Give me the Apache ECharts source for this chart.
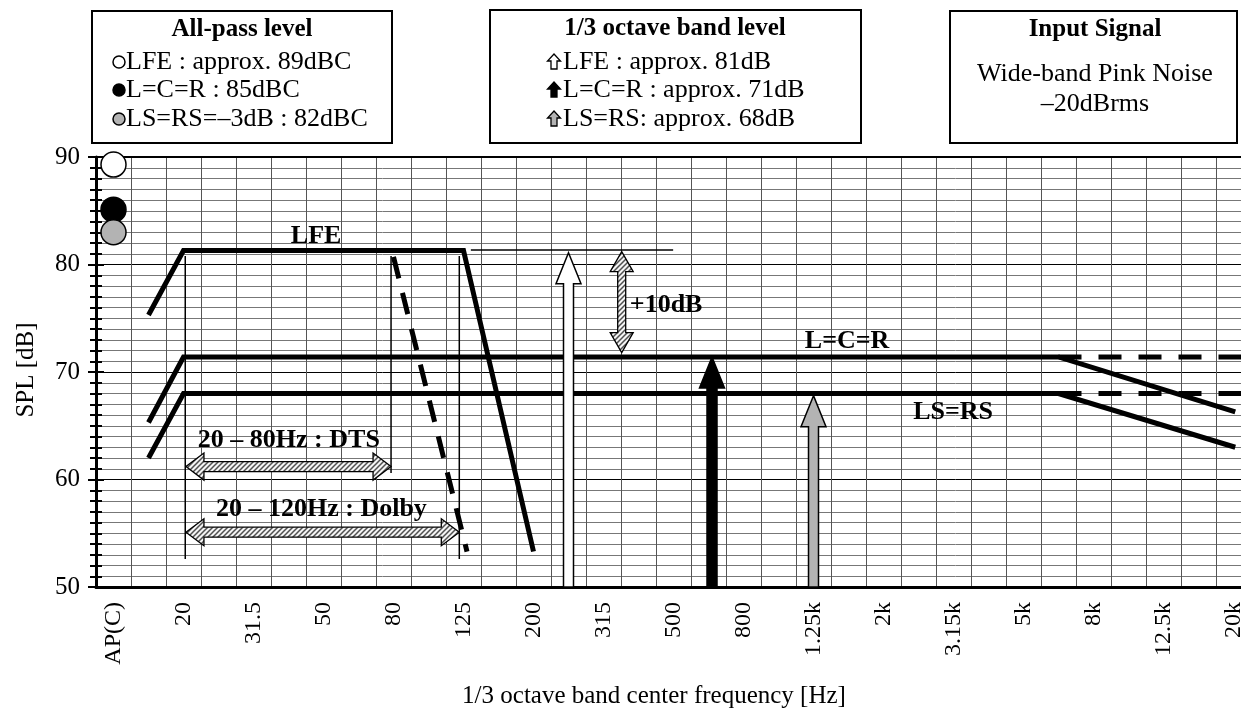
<!DOCTYPE html>
<html><head><meta charset="utf-8">
<script src="https://cdn.jsdelivr.net/npm/echarts@6/dist/echarts.min.js"></script>
<style>html,body{margin:0;padding:0;background:#fff}#c{width:1241px;height:709px}</style>
</head><body><div id="c"></div>
<script>
// ---------- data ----------
const categories = ['AP(C)','16','20','25','31.5','40','50','63','80','100','125','160','200','250','315','400','500','630','800','1k','1.25k','1.6k','2k','2.5k','3.15k','4k','5k','6.3k','8k','10k','12.5k','16k','20k'];
const yMin = 50, yMax = 90, yStep = 10;
// x = position along the band axis (0 = AP(C), 1 = 16 Hz, 2 = 20 Hz, ... 32 = 20 kHz)
const lfeCurve    = [[1,75.3],[2,81.3],[10,81.3],[12,53.3]];
const lfeDtsCurve = [[8.0,80.7],[10.1,53.3]];
const lcrCurve    = [[1,65.3],[2,71.4],[27,71.4],[32.05,66.3]];
const lcrFlat     = [[27,71.4],[33,71.4]];
const lsrsCurve   = [[1,62.0],[2,68.0],[27,68.0],[32.05,63.0]];
const lsrsFlat    = [[27,68.0],[33,68.0]];
const allPassLevels = [89.3, 85.1, 83.0];          // LFE, L=C=R, LS=RS  at AP(C)
const bandLevels    = [[13,81.1],[17.1,71.4],[20,67.8]]; // LFE, L=C=R, LS=RS
const markerLines   = [[2.05,80.8,2.05,52.6],[7.93,80.8,7.93,60.6],[9.88,80.8,9.88,52.6],[10.21,81.35,15.99,81.35]];
const rangeArrows   = [[2.07,61.2,7.93,61.2],[2.07,55.1,9.88,55.1],[14.52,81.2,14.52,71.8]];
const annotations   = [[5.79,82.65,'LFE'],[20.96,72.88,'L=C=R'],[23.99,66.28,'LS=RS'],[15.79,76.2,'+10dB'],[5.01,63.67,'20 – 80Hz : DTS'],[5.94,57.26,'20 – 120Hz : Dolby']];
const allPassTitle = 'All-pass level';
const allPassRows  = ['LFE : approx. 89dBC','L=C=R : 85dBC','LS=RS=–3dB : 82dBC'];
const bandTitle    = '1/3 octave band level';
const bandRows     = ['LFE : approx. 81dB','L=C=R : approx. 71dB','LS=RS: approx. 68dB'];
const signalTitle  = 'Input Signal';
const signalRows   = ['Wide-band Pink Noise','–20dBrms'];
const xTitle = '1/3 octave band center frequency [Hz]';
const yTitle = 'SPL [dB]';

// ---------- style ----------
const FONT = 'Liberation Serif';
const fills = ['#ffffff','#000000','#b3b3b3'];

function hatchCanvas(){
  const c=document.createElement('canvas'); c.width=5; c.height=5;
  const g=c.getContext('2d'); g.fillStyle='#f4f4f4'; g.fillRect(0,0,5,5);
  g.strokeStyle='#505050'; g.lineWidth=1.5; g.beginPath();
  g.moveTo(0,5); g.lineTo(5,0); g.moveTo(-2.5,2.5); g.lineTo(2.5,-2.5); g.moveTo(2.5,7.5); g.lineTo(7.5,2.5); g.stroke();
  return c;
}
const hatch = {image: hatchCanvas(), repeat: 'repeat'};

const chart = echarts.init(document.getElementById('c'), null, {renderer:'canvas'});

function bandArrow(params, api){
  const tip = api.coord([api.value(0), api.value(1)]);
  const base = api.coord([api.value(0), yMin]);
  const hw=12.5, sw=5, hl=31, x=tip[0], t=tip[1], b=base[1];
  return {type:'polygon', z2:5, shape:{points:[[x,t],[x+hw,t+hl],[x+sw,t+hl],[x+sw,b],[x-sw,b],[x-sw,t+hl],[x-hw,t+hl]]},
    style:{fill:fills[params.dataIndex], stroke:'#000', lineWidth:1.5}};
}
const arrowDims = [{hl:18,hw:13.5,sw:5},{hl:18,hw:13.5,sw:5},{hl:20,hw:11.5,sw:4}];
function doubleArrow(params, api){
  const p1=api.coord([api.value(0),api.value(1)]), p2=api.coord([api.value(2),api.value(3)]);
  const dx=p2[0]-p1[0], dy=p2[1]-p1[1], L=Math.hypot(dx,dy), ux=dx/L, uy=dy/L, nx=-uy, ny=ux;
  const d=arrowDims[params.dataIndex];
  const P=(s,n)=>[p1[0]+ux*s+nx*n, p1[1]+uy*s+ny*n];
  return {type:'polygon', shape:{points:[P(0,0),P(d.hl,d.hw),P(d.hl,d.sw),P(L-d.hl,d.sw),P(L-d.hl,d.hw),P(L,0),P(L-d.hl,-d.hw),P(L-d.hl,-d.sw),P(d.hl,-d.sw),P(d.hl,-d.hw)]},
    style:{fill:hatch, stroke:'#000', lineWidth:1.3}};
}
function thinLine(params, api){
  const p1=api.coord([api.value(0),api.value(1)]), p2=api.coord([api.value(2),api.value(3)]);
  return {type:'line', shape:{x1:p1[0],y1:p1[1],x2:p2[0],y2:p2[1]}, style:{stroke:'#000', lineWidth:1.5}};
}

const thick = {color:'#000', width:5, cap:'butt', join:'miter'};
function lineSeries(data, dashed){
  return {type:'line', xAxisIndex:1, yAxisIndex:0, data, symbol:'none', silent:true, clip:false, z:4,
    lineStyle:Object.assign({}, thick, dashed?{type:dashed}:{})};
}

// legend graphics
const graphics = [];
function box(x,y,w,h){ graphics.push({type:'rect', shape:{x,y,width:w,height:h}, style:{fill:'#fff', stroke:'#000', lineWidth:2}}); }
function txt(x,y,text,opt){ graphics.push({type:'text', x, y, style:Object.assign({text, font:'26px "'+FONT+'"', fill:'#000', align:'left', verticalAlign:'middle'}, opt||{})}); }
box(92,11,300,132);
txt(242,30,allPassTitle,{font:'bold 25px "'+FONT+'"', align:'center'});
const rowY=[62,90,119];
allPassRows.forEach((t,i)=>{
  graphics.push({type:'circle', shape:{cx:119, cy:rowY[i], r:6}, style:{fill:fills[i], stroke:'#000', lineWidth:1.5}});
  txt(126,rowY[i],t);
});
box(490,10,371,133);
txt(675,29,bandTitle,{font:'bold 25px "'+FONT+'"', align:'center'});
bandRows.forEach((t,i)=>{
  const x=554, y=rowY[i];
  graphics.push({type:'polygon', shape:{points:[[x,y-8],[x+6.5,y-1],[x+3,y-1],[x+3,y+7],[x-3,y+7],[x-3,y-1],[x-6.5,y-1]]}, style:{fill:fills[i], stroke:'#000', lineWidth:1.3}});
  txt(563,y,t);
});
box(950,11,287,132);
txt(1095,30,signalTitle,{font:'bold 25px "'+FONT+'"', align:'center'});
txt(1095,74,signalRows[0],{align:'center'});
txt(1095,104,signalRows[1],{align:'center'});
txt(654,696,xTitle,{font:'25px "'+FONT+'"', align:'center'});
graphics.push({type:'text', x:26, y:370, rotation:Math.PI/2, style:{text:yTitle, font:'25px "'+FONT+'"', fill:'#000', align:'center', verticalAlign:'middle'}});

const tickStyle = {color:'#000', width:2};
chart.setOption({
  animation:false,
  backgroundColor:'#fff',
  grid:{left:96, top:157, width:1155, height:430, containLabel:false, outerBoundsMode:'none'},
  xAxis:[
    {type:'category', data:categories, position:'bottom', boundaryGap:true,
     axisLine:{onZero:false, lineStyle:{color:'#000', width:3}},
     axisTick:{interval:0, length:8, lineStyle:tickStyle},
     axisLabel:{interval:1, rotate:90, margin:15, color:'#000', fontFamily:FONT, fontSize:24, hideOverlap:false},
     splitLine:{show:true, interval:0, lineStyle:{color:'#555', width:1}}},
    {type:'value', min:-0.5, max:32.5, show:false, axisLine:{onZero:false}},
    {type:'category', data:categories, position:'bottom', boundaryGap:true,
     axisLine:{show:false, onZero:false}, axisTick:{inside:true, interval:0, length:8, lineStyle:tickStyle},
     axisLabel:{show:false}, splitLine:{show:false}}
  ],
  yAxis:[
    {type:'value', min:yMin, max:yMax, interval:yStep, position:'left',
     axisLine:{show:true, onZero:false, lineStyle:{color:'#000', width:3}},
     axisTick:{show:true, length:8, lineStyle:tickStyle},
     minorTick:{show:true, splitNumber:10, length:6, lineStyle:tickStyle},
     axisLabel:{margin:16, color:'#000', fontFamily:FONT, fontSize:25},
     splitLine:{show:true, lineStyle:{color:'#000', width:1}},
     minorSplitLine:{show:true, lineStyle:{color:'#777', width:1}}},
    {type:'value', min:yMin, max:yMax, interval:yStep, position:'left',
     axisLine:{show:false, onZero:false}, axisTick:{show:true, inside:true, length:8, lineStyle:tickStyle},
     minorTick:{show:true, splitNumber:10, length:6, lineStyle:tickStyle},
     axisLabel:{show:false}, splitLine:{show:false}}
  ],
  graphic: graphics,
  series:[
    {type:'line', xAxisIndex:1, data:[[-0.5,yMax],[33,yMax]], symbol:'none', silent:true, clip:false, lineStyle:{color:'#000', width:2}, z:3},
    {type:'custom', xAxisIndex:1, data:markerLines, renderItem:thinLine, silent:true, z:3},
    lineSeries(lfeCurve),
    lineSeries(lfeDtsCurve,[22,15]),
    lineSeries(lcrCurve),
    lineSeries(lcrFlat,[23,17]),
    lineSeries(lsrsCurve),
    lineSeries(lsrsFlat,[23,17]),
    {type:'custom', xAxisIndex:1, data:bandLevels, renderItem:bandArrow, silent:true, z:6},
    {type:'custom', xAxisIndex:1, data:rangeArrows, renderItem:doubleArrow, silent:true, z:6},
    {type:'scatter', xAxisIndex:1, data:allPassLevels.map((v,i)=>({value:[0,v], itemStyle:{color:fills[i]}})),
     symbolSize:25, clip:false, silent:true, z:7, itemStyle:{borderColor:'#000', borderWidth:1.5, opacity:1}},
    {type:'scatter', xAxisIndex:1, data:annotations, symbolSize:0, silent:true, z:8, clip:false,
     itemStyle:{color:'#000', opacity:1},
     label:{show:true, position:'inside', formatter:p=>p.value[2], color:'#000', opacity:1, textBorderWidth:0, textBorderColor:'transparent',
            fontFamily:FONT, fontWeight:'bold', fontSize:26}}
  ]
});
</script></body></html>
